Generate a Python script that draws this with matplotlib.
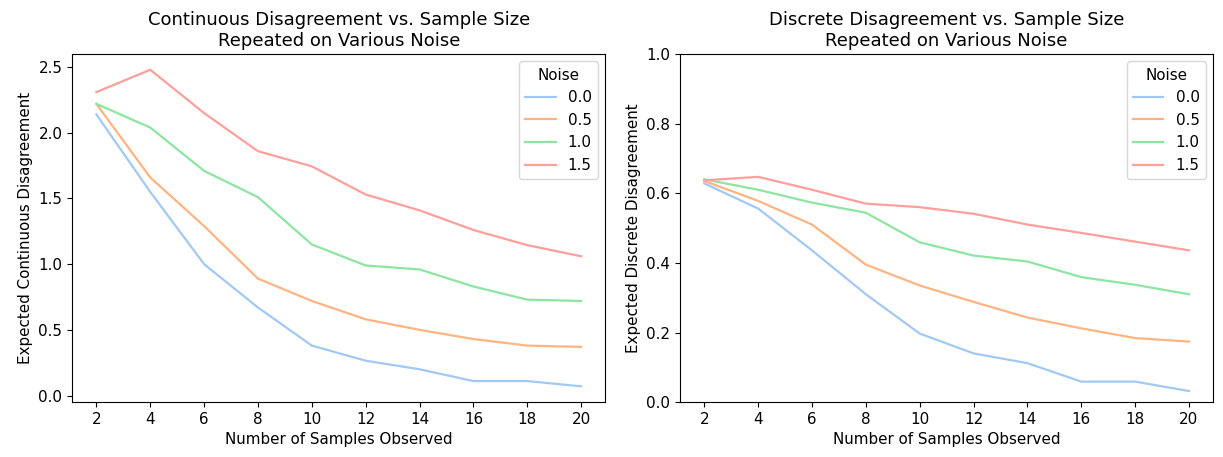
import matplotlib.pyplot as plt
import seaborn as sns

samples = [2, 4, 6, 8, 10, 12, 14, 16, 18, 20]
noise_levels = ["0.0", "0.5", "1.0", "1.5"]

# continuous disagreement, one list per noise level
cont_00 = [2.14, 1.55, 1.00, 0.67, 0.38, 0.265, 0.20, 0.11, 0.11, 0.07]
cont_05 = [2.22, 1.66, 1.29, 0.89, 0.72, 0.58, 0.50, 0.43, 0.38, 0.37]
cont_10 = [2.22, 2.04, 1.71, 1.51, 1.15, 0.99, 0.96, 0.83, 0.73, 0.72]
cont_15 = [2.31, 2.48, 2.15, 1.86, 1.745, 1.53, 1.41, 1.26, 1.145, 1.06]

# discrete disagreement
disc_00 = [0.628, 0.556, 0.436, 0.31, 0.197, 0.14, 0.112, 0.059, 0.059, 0.032]
disc_05 = [0.635, 0.578, 0.51, 0.395, 0.335, 0.288, 0.243, 0.212, 0.184, 0.174]
disc_10 = [0.64, 0.61, 0.573, 0.544, 0.459, 0.421, 0.404, 0.359, 0.337, 0.31]
disc_15 = [0.637, 0.647, 0.61, 0.57, 0.56, 0.541, 0.51, 0.486, 0.461, 0.436]

colors = sns.color_palette("pastel")[:4]
plt.rcParams['font.size'] = 10.9

fig, (ax1, ax2) = plt.subplots(1, 2, figsize=(12.23, 4.57), dpi=100)
fig.subplots_adjust(left=0.059, right=0.992, bottom=0.12, top=0.882, wspace=0.14)

for vals, c, lab in zip([cont_00, cont_05, cont_10, cont_15], colors, noise_levels):
    ax1.plot(samples, vals, color=c, label=lab, linewidth=1.6)
ax1.set_xticks(samples)
ax1.set_xlabel("Number of Samples Observed")
ax1.set_ylabel("Expected Continuous Disagreement")
ax1.set_title("Continuous Disagreement vs. Sample Size\nRepeated on Various Noise", fontsize=13)
ax1.legend(title="Noise", loc="upper right")

for vals, c, lab in zip([disc_00, disc_05, disc_10, disc_15], colors, noise_levels):
    ax2.plot(samples, vals, color=c, label=lab, linewidth=1.6)
ax2.set_xticks(samples)
ax2.set_ylim(0, 1)
ax2.set_xlabel("Number of Samples Observed")
ax2.set_ylabel("Expected Discrete Disagreement")
ax2.set_title("Discrete Disagreement vs. Sample Size\nRepeated on Various Noise", fontsize=13)
ax2.legend(title="Noise", loc="upper right")

fig.savefig("out.png")
